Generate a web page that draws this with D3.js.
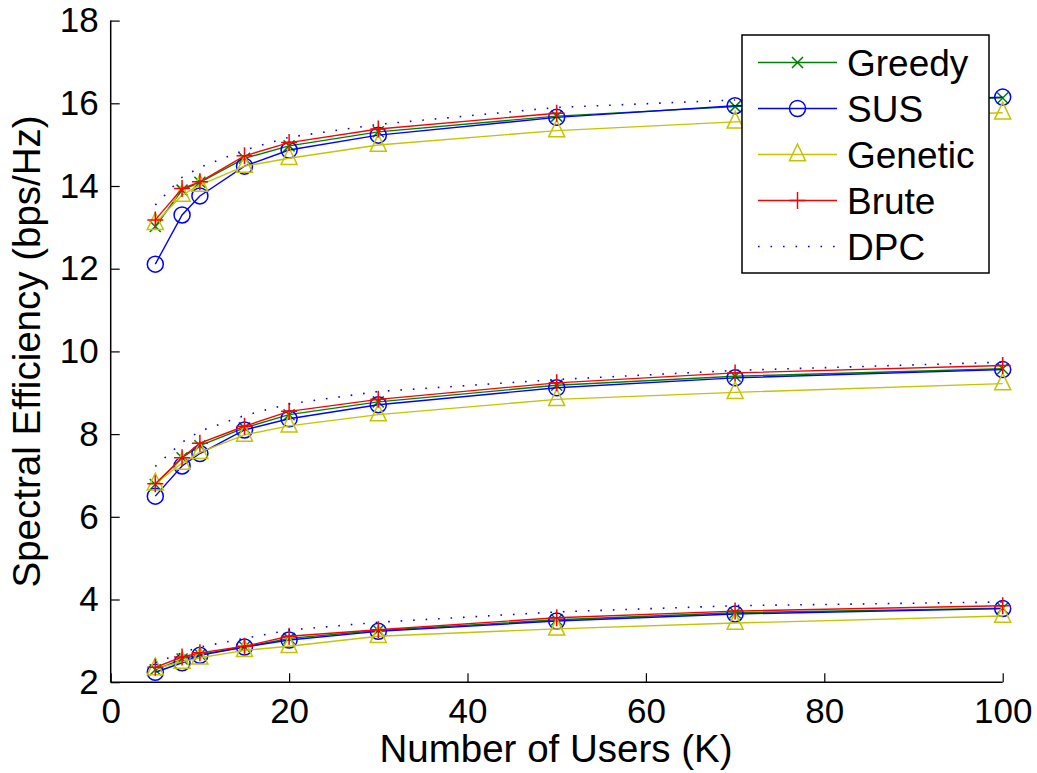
<!DOCTYPE html>
<html>
<head>
<meta charset="utf-8">
<script src="https://cdn.jsdelivr.net/npm/d3@7"></script>
<style>
  html, body { margin: 0; padding: 0; background: #fff; }
  svg text { font-family: "Liberation Sans", Arial, Helvetica, sans-serif; fill: #000; }
</style>
</head>
<body>
<svg id="chart" width="1037" height="773"></svg>
<script>
// Number of users K
const users = [5, 8, 10, 15, 20, 30, 50, 70, 100];

// Upper family of curves
const greedyHigh  = [13.02, 13.90, 14.09, 14.67, 14.97, 15.31, 15.69, 15.92, 16.13];
const susHigh     = [12.11, 13.30, 13.76, 14.48, 14.87, 15.23, 15.66, 15.94, 16.15];
const geneticHigh = [13.10, 13.78, 14.02, 14.48, 14.67, 14.99, 15.34, 15.55, 15.77];
const bruteHigh   = [13.18, 13.94, 14.10, 14.73, 15.05, 15.38, 15.76];
const dpcHigh     = [13.54, 14.21, 14.45, 14.87, 15.18, 15.49, 15.90, 16.08];

// Middle family of curves
const greedyMid  = [6.78, 7.43, 7.72, 8.15, 8.47, 8.78, 9.18, 9.40, 9.58];
const susMid     = [6.50, 7.23, 7.53, 8.10, 8.37, 8.71, 9.12, 9.36, 9.56];
const geneticMid = [6.80, 7.30, 7.56, 7.98, 8.20, 8.47, 8.84, 9.01, 9.22];
const bruteMid   = [6.80, 7.43, 7.78, 8.19, 8.55, 8.84, 9.24, 9.48, 9.66];
const dpcMid     = [7.22, 7.80, 8.07, 8.45, 8.73, 9.03, 9.32, 9.54, 9.74];

// Lower family of curves
const greedyLow  = [2.30, 2.56, 2.67, 2.85, 3.06, 3.25, 3.51, 3.68, 3.79];
const susLow     = [2.24, 2.47, 2.65, 2.85, 3.02, 3.23, 3.48, 3.65, 3.78];
const geneticLow = [2.33, 2.49, 2.59, 2.77, 2.87, 3.11, 3.29, 3.43, 3.60];
const bruteLow   = [2.36, 2.61, 2.71, 2.87, 3.11, 3.27, 3.56, 3.72, 3.85];
const dpcLow     = [2.47, 2.71, 2.85, 3.06, 3.26, 3.45, 3.70, 3.85, 3.94];

const xTicks = [0, 20, 40, 60, 80, 100];
const yTicks = [2, 4, 6, 8, 10, 12, 14, 16, 18];
const seriesNames = ["Greedy", "SUS", "Genetic", "Brute", "DPC"];

const styles = {
  Greedy:  { color: "#008000", marker: "x" },
  SUS:     { color: "#0000ff", marker: "o" },
  Genetic: { color: "#c4c400", marker: "^" },
  Brute:   { color: "#ff0000", marker: "+" },
  DPC:     { color: "#0000ff", marker: null, dash: "1.6,10.9" }
};

const groups = [
  { Greedy: greedyLow,  SUS: susLow,  Genetic: geneticLow,  Brute: bruteLow,  DPC: dpcLow },
  { Greedy: greedyMid,  SUS: susMid,  Genetic: geneticMid,  Brute: bruteMid,  DPC: dpcMid },
  { Greedy: greedyHigh, SUS: susHigh, Genetic: geneticHigh, Brute: bruteHigh, DPC: dpcHigh }
];

const svg = d3.select("#chart");
const plotLeft = 110.7, plotRight = 1002.7, plotTop = 20.6, plotBottom = 682.2;
const x = d3.scaleLinear().domain([0, 100]).range([plotLeft, plotRight]);
const y = d3.scaleLinear().domain([2, 18]).range([plotBottom, plotTop]);

const fontTick = 35;

function markerPath(type) {
  switch (type) {
    case "^": return "M0,-10.5L8,6.2L-8,6.2Z";
    case "x": return "M-5.5,-5.5L5.5,5.5M-5.5,5.5L5.5,-5.5";
    case "+": return "M-8,0L8,0M0,-8.5L0,8.5";
  }
  return "";
}

function drawMarker(g, type, color, cx, cy) {
  if (type === "o") {
    g.append("circle").attr("cx", cx).attr("cy", cy).attr("r", 8)
      .attr("fill", "none").attr("stroke", color).attr("stroke-width", 1.5);
  } else {
    g.append("path").attr("d", markerPath(type))
      .attr("transform", `translate(${cx},${cy})`)
      .attr("fill", "none").attr("stroke", color).attr("stroke-width", 1.5);
  }
}

const plot = svg.append("g");
const line = d3.line().x(d => x(d[0])).y(d => y(d[1]));

groups.forEach(grp => {
  seriesNames.forEach(name => {
    const st = styles[name];
    const vals = grp[name];
    const pts = vals.map((v, i) => [users[i], v]);
    plot.append("path").datum(pts)
      .attr("d", line)
      .attr("fill", "none")
      .attr("stroke", st.color)
      .attr("stroke-width", st.dash ? 1.6 : 1.4)
      .attr("stroke-dasharray", st.dash || null);
    if (st.marker) {
      pts.forEach(p => drawMarker(plot, st.marker, st.color, x(p[0]), y(p[1])));
    }
  });
});

// Axes (ticks pointing inward, no box)
const xAxis = d3.axisBottom(x).tickValues(xTicks).tickSize(-9).tickPadding(16).tickFormat(d3.format("d"));
const yAxis = d3.axisLeft(y).tickValues(yTicks).tickSize(-9).tickPadding(12).tickFormat(d3.format("d"));

const gx = svg.append("g").attr("transform", `translate(0,${plotBottom})`).call(xAxis);
const gy = svg.append("g").attr("transform", `translate(${plotLeft},0)`).call(yAxis);

[gx, gy].forEach(g => {
  g.select(".domain").attr("stroke", "#000").attr("stroke-width", 1.5);
  g.selectAll(".tick line").attr("stroke", "#000").attr("stroke-width", 1.2);
  g.selectAll(".tick text")
    .style("font-family", '"Liberation Sans", Arial, sans-serif')
    .style("font-size", fontTick + "px")
    .attr("fill", "#000");
});
gx.select(".domain").attr("d", `M${plotLeft},0H${plotRight}`);
gy.select(".domain").attr("d", `M0,${plotBottom}V${plotTop}`);

// Axis titles
svg.append("text")
  .attr("x", 556)
  .attr("y", 762)
  .attr("text-anchor", "middle")
  .style("font-size", "38.5px")
  .text("Number of Users (K)");

svg.append("text")
  .attr("transform", `translate(40,${(plotTop + plotBottom) / 2}) rotate(-90)`)
  .attr("text-anchor", "middle")
  .style("font-size", "38.5px")
  .text("Spectral Efficiency (bps/Hz)");

// Legend
const legend = svg.append("g");
const lgX0 = 742, lgY0 = 35, lgW = 247, lgH = 238;
legend.append("rect")
  .attr("x", lgX0).attr("y", lgY0).attr("width", lgW).attr("height", lgH)
  .attr("fill", "#fff").attr("stroke", "#000").attr("stroke-width", 1.5);

const entryY = d3.scaleLinear().domain([0, 4]).range([62.5, 246.5]);
seriesNames.forEach((name, i) => {
  const st = styles[name];
  const ey = entryY(i);
  legend.append("line")
    .attr("x1", 758).attr("x2", 837).attr("y1", ey).attr("y2", ey)
    .attr("stroke", st.color)
    .attr("stroke-width", st.dash ? 1.6 : 1.4)
    .attr("stroke-dasharray", st.dash || null);
  if (st.marker) drawMarker(legend, st.marker, st.color, 797.5, ey);
  legend.append("text")
    .attr("x", 847).attr("y", ey + 13)
    .style("font-size", "37px")
    .text(name);
});
</script>
</body>
</html>
